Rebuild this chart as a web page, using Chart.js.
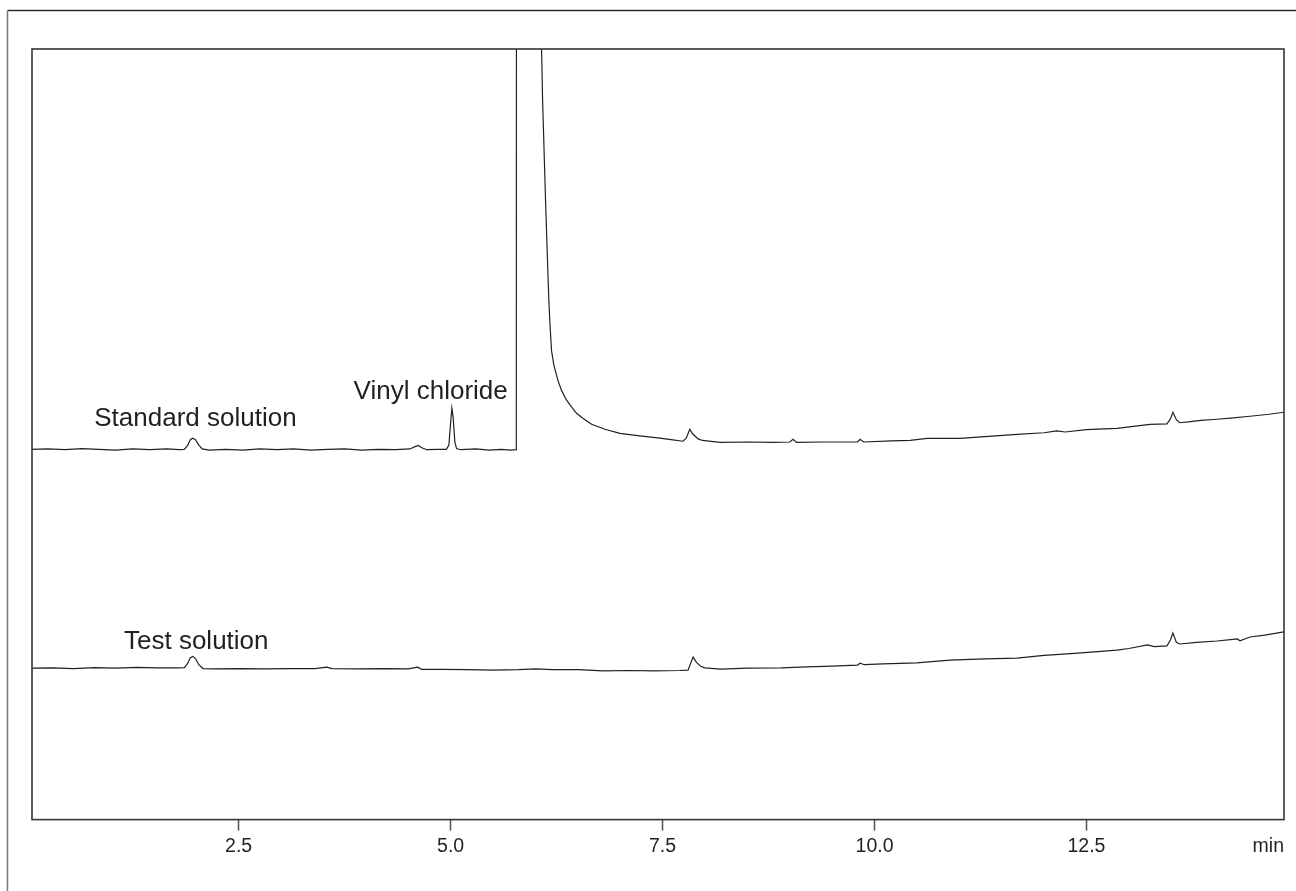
<!DOCTYPE html>
<html>
<head>
<meta charset="utf-8">
<script src="https://cdn.jsdelivr.net/npm/chart.js@4.4.1/dist/chart.umd.min.js"></script>
<style>
  html, body { margin: 0; padding: 0; background: #ffffff; }
  #wrap { position: relative; width: 1296px; height: 891px; }
</style>
</head>
<body>
<div id="wrap"><canvas id="c"></canvas></div>
<script>
// ---- data (time in min, signal in % of full scale) ----
const stdTimes = [0.06,0.25,0.45,0.65,0.85,1.05,1.25,1.45,1.65,1.80,1.86,1.90,1.93,1.96,1.99,2.03,2.07,2.15,2.35,2.55,2.75,2.95,3.15,3.35,3.55,3.75,3.95,4.15,4.35,4.52,4.58,4.62,4.66,4.72,4.85,4.95,4.98,5.00,5.015,5.03,5.05,5.07,5.12,5.30,5.45,5.60,5.70,5.775,5.785,6.00,6.05,6.073,6.085,6.120,6.139,6.159,6.173,6.191,6.218,6.265,6.307,6.368,6.419,6.486,6.560,6.663,6.820,6.997,7.232,7.468,7.60,7.74,7.78,7.82,7.86,7.92,7.97,8.18,8.50,8.80,9.00,9.04,9.08,9.40,9.80,9.83,9.87,10.20,10.42,10.62,11.01,11.30,11.68,12.00,12.15,12.25,12.50,12.86,13.10,13.25,13.45,13.49,13.52,13.56,13.60,13.70,13.85,14.04,14.20,14.43,14.65,14.83];
const stdSignal = [48.05,48.10,48.00,48.15,48.05,47.95,48.10,48.00,48.10,48.00,48.05,48.60,49.30,49.50,49.30,48.60,48.10,47.95,48.05,47.95,48.10,48.00,48.10,47.95,48.05,48.10,47.95,48.05,48.00,48.10,48.40,48.55,48.25,48.00,48.05,48.05,48.60,51.50,53.40,52.20,49.00,48.15,48.00,48.10,47.95,48.05,47.95,48.00,400,400,160,100,93.36,80.34,73.83,67.32,64.06,60.81,58.98,57.03,55.73,54.43,53.65,52.73,52.08,51.30,50.65,50.13,49.80,49.50,49.30,49.10,49.50,50.65,50.00,49.40,49.20,48.96,49.00,48.95,49.00,49.35,48.95,49.00,49.00,49.35,49.00,49.15,49.20,49.48,49.48,49.70,50.00,50.20,50.45,50.30,50.60,50.78,51.10,51.30,51.35,52.00,52.86,51.90,51.50,51.60,51.80,51.95,52.10,52.34,52.60,52.86];

const testTimes = [0.06,0.30,0.55,0.80,1.05,1.30,1.55,1.80,1.86,1.90,1.93,1.96,1.99,2.03,2.08,2.20,2.50,2.80,3.10,3.40,3.54,3.60,3.90,4.20,4.50,4.61,4.66,4.90,5.20,5.50,5.80,6.00,6.20,6.50,6.80,7.10,7.40,7.70,7.80,7.86,7.90,7.95,8.00,8.18,8.50,8.90,9.20,9.50,9.80,9.83,9.88,10.10,10.50,10.89,11.30,11.68,12.00,12.40,12.86,13.00,13.22,13.30,13.45,13.49,13.52,13.56,13.60,13.80,14.04,14.20,14.28,14.31,14.43,14.60,14.83];
const testSignal = [19.66,19.70,19.60,19.72,19.65,19.75,19.68,19.70,19.72,20.30,21.00,21.18,20.90,20.10,19.60,19.55,19.60,19.55,19.60,19.60,19.79,19.60,19.55,19.60,19.55,19.79,19.50,19.50,19.45,19.40,19.45,19.55,19.45,19.45,19.30,19.35,19.30,19.35,19.40,21.09,20.40,19.90,19.70,19.53,19.65,19.70,19.82,19.92,20.05,20.30,20.10,20.20,20.35,20.70,20.85,20.96,21.30,21.61,22.00,22.20,22.66,22.45,22.55,23.30,24.22,23.00,22.79,23.00,23.18,23.35,23.44,23.20,23.70,23.95,24.35];

const xTickValues = [2.5, 5.0, 7.5, 10.0, 12.5];
const xTickLabels = ['2.5', '5.0', '7.5', '10.0', '12.5'];
const xUnitLabel = 'min';

const noteTexts = ['Standard solution', 'Vinyl chloride', 'Test solution'];
const noteTimes = [1.99, 4.765, 2.0];
const noteSignals = [51.04, 54.56, 22.1];

// ---- chart ----
const INK = '#231f20';
const FONT = '"Liberation Sans", Arial, Helvetica, sans-serif';

const framePlugin = {
  id: 'frame',
  beforeDraw(chart) {
    const ctx = chart.ctx;
    ctx.save();
    ctx.fillStyle = '#ffffff';
    ctx.fillRect(0, 0, chart.width, chart.height);
    // outer page frame (top and left edges visible)
    ctx.lineWidth = 1.5;
    ctx.strokeStyle = '#2e2828';
    ctx.beginPath();
    ctx.moveTo(7.5, 10.5);
    ctx.lineTo(chart.width + 2, 10.5);
    ctx.stroke();
    ctx.strokeStyle = '#7a7676';
    ctx.beginPath();
    ctx.moveTo(7.5, 10.5);
    ctx.lineTo(7.5, chart.height + 2);
    ctx.stroke();
    ctx.restore();
  },
  afterDatasetsDraw(chart) {
    const ctx = chart.ctx;
    const a = chart.chartArea;
    ctx.save();
    ctx.lineWidth = 1.6;
    ctx.strokeStyle = '#3a3434';
    ctx.strokeRect(a.left, a.top, a.right - a.left, a.bottom - a.top);
    // peak annotations
    const xs = chart.scales.x, ys = chart.scales.y;
    ctx.fillStyle = INK;
    ctx.font = '26px ' + FONT;
    ctx.textAlign = 'center';
    ctx.textBaseline = 'alphabetic';
    noteTexts.forEach((t, i) => {
      ctx.fillText(t, xs.getPixelForValue(noteTimes[i]), ys.getPixelForValue(noteSignals[i]));
    });
    // unit label on the x axis row
    const items = xs.getLabelItems();
    if (items.length) {
      const it = items[0];
      ctx.font = '19.5px ' + FONT;
      ctx.textAlign = 'right';
      ctx.textBaseline = it.options.textBaseline || 'middle';
      const off = (typeof it.textOffset === 'number') ? it.textOffset : (it.options.textOffset || 0);
      ctx.fillText(xUnitLabel, a.right, it.options.translation[1] + off);
    }
    ctx.restore();
  }
};

new Chart(document.getElementById('c'), {
  type: 'line',
  data: {
    datasets: [
      {
        label: 'Standard solution',
        data: stdTimes.map((t, i) => ({ x: t, y: stdSignal[i] })),
        borderColor: INK, borderWidth: 1.2, pointRadius: 0, tension: 0, fill: false
      },
      {
        label: 'Test solution',
        data: testTimes.map((t, i) => ({ x: t, y: testSignal[i] })),
        borderColor: INK, borderWidth: 1.2, pointRadius: 0, tension: 0, fill: false
      }
    ]
  },
  options: {
    responsive: true,
    maintainAspectRatio: false,
    animation: false,
    events: [],
    layout: { padding: { left: 32, right: 12, top: 49, bottom: 29 } },
    plugins: { legend: { display: false }, tooltip: { enabled: false }, title: { display: false } },
    scales: {
      x: {
        type: 'linear',
        min: 0.0625,
        max: 14.83,
        border: { display: false },
        grid: { display: true, drawOnChartArea: false, drawTicks: true, tickLength: 11, tickColor: '#555050', tickWidth: 1.5 },
        afterBuildTicks(scale) { scale.ticks = xTickValues.map(v => ({ value: v })); },
        ticks: {
          autoSkip: false, maxRotation: 0, minRotation: 0, padding: 4,
          color: INK, font: { family: FONT, size: 19.5 },
          callback(value, index) { return xTickLabels[index]; }
        }
      },
      y: {
        type: 'linear', display: false, min: 0, max: 100
      }
    }
  },
  plugins: [framePlugin]
});
</script>
</body>
</html>
